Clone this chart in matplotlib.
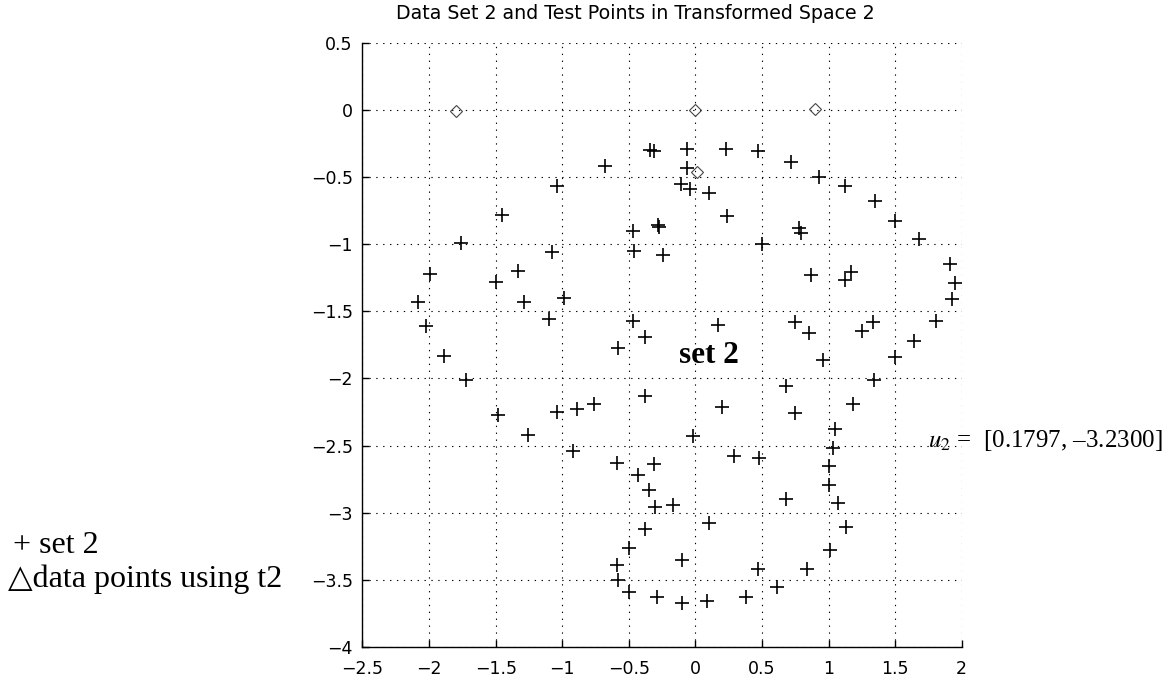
import matplotlib
matplotlib.use("Agg")
import matplotlib.pyplot as plt

# set 2 points (transformed space 2)
set2_x = [-0.34, -0.31, -0.06, 0.23, 0.47, 0.72, 0.93, -0.68, -0.06, -0.11,
          -0.04, 0.10, 1.12, -1.04, -1.45, 0.24, 1.35, 1.50, -0.47, -0.28,
          -0.27, 0.78, 0.79, 1.68, -1.76, -1.08, -0.46, -0.24, 0.50, -1.99,
          -1.33, -1.50, 0.87, 1.12, 1.17, 1.91, 1.95, 1.93, -2.08, -1.29,
          -0.99, -1.10, -2.02, -0.47, -0.38, -0.58, 0.17, 0.75, 0.85, 0.96,
          1.25, 1.33, 1.81, 1.64, 1.50, -1.89, -1.72, 0.68, 1.34, -0.38,
          0.20, 0.75, 1.18, -1.48, -1.04, -0.89, -0.76, -1.26, -0.92, -0.02,
          1.05, 1.03, -0.59, -0.31, 0.29, 0.48, 1.00, -0.43, -0.35, 1.00,
          -0.30, -0.17, 0.68, 1.07, -0.38, 0.10, 1.13, -0.50, 1.01, -0.59,
          -0.10, -0.58, 0.47, 0.84, 0.61, -0.50, -0.29, -0.10, 0.09, 0.38]
set2_y = [-0.30, -0.31, -0.29, -0.29, -0.31, -0.39, -0.50, -0.42, -0.43, -0.55,
          -0.59, -0.62, -0.57, -0.57, -0.78, -0.79, -0.68, -0.83, -0.90, -0.855,
          -0.87, -0.88, -0.92, -0.96, -0.99, -1.06, -1.05, -1.08, -1.00, -1.22,
          -1.20, -1.28, -1.23, -1.27, -1.21, -1.15, -1.29, -1.41, -1.43, -1.43,
          -1.40, -1.56, -1.61, -1.57, -1.69, -1.77, -1.60, -1.58, -1.66, -1.86,
          -1.65, -1.58, -1.57, -1.72, -1.84, -1.83, -2.01, -2.06, -2.01, -2.13,
          -2.21, -2.26, -2.19, -2.27, -2.25, -2.23, -2.19, -2.42, -2.54, -2.43,
          -2.38, -2.52, -2.63, -2.64, -2.58, -2.59, -2.65, -2.72, -2.83, -2.79,
          -2.96, -2.94, -2.90, -2.93, -3.12, -3.08, -3.11, -3.26, -3.28, -3.39,
          -3.35, -3.50, -3.42, -3.42, -3.55, -3.59, -3.63, -3.67, -3.66, -3.63]

# test points
test_x = [-1.80, 0.00, 0.90, 0.01]
test_y = [-0.01, 0.00, 0.01, -0.46]

xticks = [-2.5, -2, -1.5, -1, -0.5, 0, 0.5, 1, 1.5, 2]
yticks = [0.5, 0, -0.5, -1, -1.5, -2, -2.5, -3, -3.5, -4]

tick_font = ['Liberation Sans Narrow', 'DejaVu Sans']
serif_font = ['Liberation Serif', 'DejaVu Serif', 'DejaVu Sans']
plt.rcParams['mathtext.fontset'] = 'stix'

fig = plt.figure(figsize=(11.7, 6.81), dpi=100)
ax = fig.add_axes([0.3098, 0.0499, 0.5122, 0.8874])

ax.plot(set2_x, set2_y, '+', color='black', markersize=10, markeredgewidth=1.2)
ax.plot(test_x, test_y, 'D', markerfacecolor='none', markeredgecolor='#444444',
        markersize=6.5, markeredgewidth=0.8)

ax.set_xlim(-2.5, 2)
ax.set_ylim(-4, 0.5)
ax.set_xticks(xticks)
ax.set_yticks(yticks)
ax.set_xticklabels([f'{t:g}'.replace('-', '\u2212') for t in xticks], family=tick_font, fontsize=12.5)
ax.set_yticklabels([f'{t:g}'.replace('-', '\u2212') for t in yticks], family=tick_font, fontsize=12.5)
ax.tick_params(direction='in', length=5, width=1, pad=7)
ax.tick_params(axis='x', pad=9)

ax.grid(True, color='black', linestyle=(0, (1.2, 5)), linewidth=0.8)
ax.spines['top'].set_visible(False)
ax.spines['right'].set_visible(False)
ax.spines['left'].set_linewidth(1)
ax.spines['bottom'].set_linewidth(1)

ax.set_title('Data Set 2 and Test Points in Transformed Space 2',
             family=tick_font, fontsize=13.7, pad=17, x=0.456)

ax.text(-0.12, -1.886, 'set 2', family=serif_font, fontweight='bold',
        fontsize=22.5, ha='left', va='baseline')
ax.text(1.745, -2.51, '$u_2$ =  [0.1797, \u20133.2300]',
        family=serif_font, fontsize=18, ha='left', va='baseline', clip_on=False)

fig.text(13 / 1170, (681 - 553) / 681, '+ set 2', family=serif_font, fontsize=23,
         ha='left', va='baseline')
fig.text(8 / 1170, (681 - 587) / 681, '\u25b3data points using t2', family=serif_font,
         fontsize=23, ha='left', va='baseline')

fig.savefig('out.png', dpi=100)
